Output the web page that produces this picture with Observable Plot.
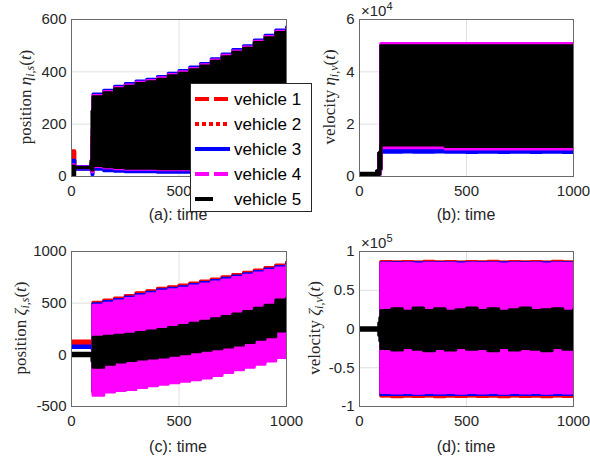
<!DOCTYPE html>
<html><head><meta charset="utf-8">
<script src="https://cdn.jsdelivr.net/npm/d3@7"></script>
<script src="https://cdn.jsdelivr.net/npm/@observablehq/plot@0.6"></script>
<style>
body{margin:0;background:#fff;}
#fig{position:relative;width:590px;height:464px;overflow:hidden;font-family:"Liberation Sans",Arial,sans-serif;color:#262626;}
.panel{position:absolute;}
.ylab{position:absolute;font-family:"Liberation Serif","DejaVu Serif",serif;font-size:17px;white-space:nowrap;transform:translate(-50%,-50%) rotate(-90deg);color:#262626;}
.ylab sub{font-size:12px;vertical-align:-3px;}
.xlab{position:absolute;font-size:16px;transform:translate(-50%,-50%);white-space:nowrap;color:#262626;}
.exp{position:absolute;font-size:15px;color:#262626;white-space:nowrap;}
.exp sup{font-size:11px;}
#legend{position:absolute;left:190px;top:83px;width:120px;height:127px;background:#fff;border:1px solid #262626;}
</style></head><body><div id="fig"></div>
<script>
// ---- data ----
const vehicles = ["vehicle 1", "vehicle 2", "vehicle 3", "vehicle 4", "vehicle 5"];
const colors = ["#ff0000", "#ff0000", "#0000ff", "#ff00ff", "#000000"];
const time = [0, 15, 80, 90, 95, 100, 150, 200, 250, 300, 350, 400, 450, 500, 550, 600, 650, 700, 750, 800, 850, 900, 950, 1000];

// (a) position eta_{i,s}: upper / lower envelope of each vehicle's oscillation
const aHi1 = [98, 36, 38, 45, 150, 300, 315, 330, 340, 350, 357, 367, 380, 390, 403, 417, 435, 453, 470, 485, 507, 525, 545, 555];
const aLo1 = [62, 30, 30, 28, 20, 35, 30, 27, 25, 25, 25, 23, 23, 23, 23, 25, 25, 25, 27, 27, 30, 30, 33, 35];
const aHi2 = [95, 36, 38, 45, 150, 300, 315, 330, 340, 350, 357, 367, 380, 390, 403, 417, 435, 453, 470, 485, 507, 525, 545, 555];
const aLo2 = [62, 30, 30, 28, 20, 35, 30, 27, 25, 25, 25, 23, 23, 23, 23, 25, 25, 25, 27, 27, 30, 30, 33, 35];
const aHi3 = [62, 38, 38, 45, 120, 315, 330, 345, 355, 365, 372, 382, 395, 405, 418, 432, 450, 468, 485, 500, 522, 540, 560, 572];
const aLo3 = [30, 28, 28, 25, 8, 28, 22, 20, 18, 18, 18, 16, 16, 16, 16, 18, 18, 18, 20, 20, 22, 22, 25, 28];
const aHi4 = [45, 36, 36, 50, 180, 310, 325, 340, 350, 360, 367, 377, 390, 400, 413, 427, 445, 463, 480, 495, 517, 535, 555, 565];
const aLo4 = [30, 33, 33, 28, 18, 38, 33, 30, 28, 28, 28, 26, 26, 26, 26, 28, 28, 28, 30, 30, 33, 33, 36, 38];
const aHi5 = [40, 34, 34, 60, 250, 305, 320, 335, 345, 355, 362, 372, 385, 395, 408, 422, 440, 458, 475, 490, 512, 530, 550, 560];
const aLo5 = [5, 34, 34, 30, 25, 42, 37, 34, 32, 32, 32, 30, 30, 30, 30, 32, 32, 32, 34, 34, 37, 37, 40, 42];

// (b) velocity eta_{i,v}
const bHi1 = [1000, 1000, 2000, 9000, 9000, 50000, 50000, 50000, 50000, 50000, 50000, 50000, 50000, 50000, 50000, 50000, 50000, 50000, 50000, 50000, 50000, 50000, 50000, 50000];
const bLo1 = [0, 0, 0, 1000, 3000, 10000, 10000, 10000, 10000, 10000, 10000, 10000, 10000, 10000, 10000, 10000, 10000, 10000, 10000, 10000, 10000, 10000, 10000, 10000];
const bHi2 = [1000, 1000, 2000, 9000, 9000, 50000, 50000, 50000, 50000, 50000, 50000, 50000, 50000, 50000, 50000, 50000, 50000, 50000, 50000, 50000, 50000, 50000, 50000, 50000];
const bLo2 = [0, 0, 0, 1000, 3000, 10000, 10000, 10000, 10000, 10000, 10000, 10000, 10000, 10000, 10000, 10000, 10000, 10000, 10000, 10000, 10000, 10000, 10000, 10000];
const bHi3 = [1000, 1000, 2000, 9000, 9500, 50500, 50500, 50500, 50500, 50500, 50500, 50500, 50500, 50500, 50500, 50500, 50500, 50500, 50500, 50500, 50500, 50500, 50500, 50500];
const bLo3 = [0, 0, 0, 500, 2500, 9300, 9300, 9400, 9300, 9300, 9400, 9300, 9300, 9200, 9300, 9300, 9200, 9300, 9300, 9200, 9300, 9300, 9200, 9300];
const bHi4 = [800, 800, 1500, 8500, 9000, 50800, 50800, 50800, 50800, 50800, 50800, 50800, 50800, 50800, 50800, 50800, 50800, 50800, 50800, 50800, 50800, 50800, 50800, 50800];
const bLo4 = [0, 0, 0, 500, 2500, 11000, 11000, 11000, 11000, 11000, 11000, 10500, 10500, 10500, 10500, 10500, 10500, 10500, 10500, 10500, 10500, 10500, 10500, 10500];
const bHi5 = [1200, 1200, 2200, 9000, 9000, 50000, 50000, 50000, 50000, 50000, 50000, 50000, 50000, 50000, 50000, 50000, 50000, 50000, 50000, 50000, 50000, 50000, 50000, 50000];
const bLo5 = [0, 0, 0, 1000, 3000, 12000, 12000, 12000, 12000, 12000, 12000, 11500, 11500, 11500, 11500, 11500, 11500, 11500, 11500, 11500, 11500, 11500, 11500, 11500];

// (c) position zeta_{i,s}
const cHi1 = [135, 135, 135, 135, 130, 510, 530, 550, 575, 600, 620, 645, 660, 675, 695, 715, 735, 755, 778, 800, 822, 845, 870, 897];
const cLo1 = [95, 95, 95, 95, 90, -360, -340, -325, -315, -295, -280, -265, -250, -235, -220, -205, -180, -150, -125, -100, -70, -40, -5, 30];
const cHi2 = [130, 130, 130, 130, 125, 505, 525, 545, 570, 595, 615, 640, 655, 670, 690, 710, 730, 750, 773, 795, 817, 840, 865, 892];
const cLo2 = [95, 95, 95, 95, 90, -360, -340, -325, -315, -295, -280, -265, -250, -235, -220, -205, -180, -150, -125, -100, -70, -40, -5, 30];
const cHi3 = [85, 85, 85, 85, 80, 495, 515, 535, 560, 585, 605, 630, 645, 660, 680, 700, 720, 740, 763, 785, 807, 830, 855, 880];
const cLo3 = [70, 70, 70, 70, 60, -350, -330, -315, -305, -285, -270, -255, -240, -225, -210, -195, -170, -140, -115, -90, -60, -30, 5, 40];
const cHi4 = [10, 10, 10, 10, 10, 480, 500, 520, 545, 570, 590, 615, 630, 645, 665, 685, 705, 725, 748, 770, 792, 815, 840, 865];
const cLo4 = [0, 0, 0, 0, -20, -390, -360, -345, -335, -315, -300, -285, -270, -255, -240, -225, -200, -170, -145, -120, -90, -60, -25, 10];
const cHi5 = [15, 15, 15, 15, 10, 170, 180, 190, 200, 215, 230, 245, 265, 285, 305, 325, 350, 370, 395, 420, 450, 480, 530, 545];
const cLo5 = [-10, -10, -10, -10, -60, -120, -90, -70, -55, -40, -30, -20, -5, 10, 30, 45, 60, 75, 95, 120, 150, 175, 230, 280];

// (d) velocity zeta_{i,v}
const dHi1 = [0, 0, 0, 0, 1000, 87000, 86500, 87000, 86000, 87500, 86500, 87000, 86000, 87000, 86500, 87500, 86000, 87000, 86500, 87000, 86000, 87500, 86500, 87000];
const dLo1 = [0, 0, 0, 0, -1000, -86000, -87500, -86500, -87000, -86000, -87500, -86500, -87000, -86000, -87000, -86500, -87500, -86000, -87000, -86500, -87500, -86000, -87000, -86500];
const dHi2 = [0, 0, 0, 0, 1000, 86500, 86500, 86500, 86500, 86500, 86500, 86500, 86500, 86500, 86500, 86500, 86500, 86500, 86500, 86500, 86500, 86500, 86500, 86500];
const dLo2 = [0, 0, 0, 0, -1000, -86500, -86500, -86500, -86500, -86500, -86500, -86500, -86500, -86500, -86500, -86500, -86500, -86500, -86500, -86500, -86500, -86500, -86500, -86500];
const dHi3 = [0, 0, 0, 0, 1000, 85500, 85500, 85500, 85500, 85500, 85500, 85500, 85500, 85500, 85500, 85500, 85500, 85500, 85500, 85500, 85500, 85500, 85500, 85500];
const dLo3 = [0, 0, 0, 0, -1000, -84500, -84500, -84500, -84500, -84500, -84500, -84500, -84500, -84500, -84500, -84500, -84500, -84500, -84500, -84500, -84500, -84500, -84500, -84500];
const dHi4 = [0, 0, 0, 0, 1000, 85000, 84500, 85000, 84000, 85000, 84500, 85000, 84000, 85000, 84500, 85000, 84000, 85000, 84500, 85000, 84000, 85000, 84500, 85000];
const dLo4 = [0, 0, 0, 0, -1000, -82000, -82500, -82000, -83000, -82000, -82500, -82000, -83000, -82000, -82500, -82000, -83000, -82000, -82500, -82000, -83000, -82000, -82500, -82000];
const dHi5 = [1500, 1500, 1500, 8000, 15000, 24000, 26000, 23000, 27000, 24000, 26000, 23000, 25000, 27000, 24000, 26000, 23000, 25000, 27000, 24000, 25000, 26000, 23000, 25000];
const dLo5 = [-1500, -1500, -1500, -8000, -15000, -25000, -27000, -24000, -26000, -28000, -25000, -27000, -24000, -26000, -25000, -28000, -24000, -27000, -25000, -26000, -28000, -24000, -26000, -25000];

const xTicks = [0, 500, 1000];
const xTicksA = [0, 500];          // the 1000 label of (a) lies under the legend
const aTicks = [0, 200, 400, 600];
const bTicks = [0, 20000, 40000, 60000];
const cTicks = [-500, 0, 500, 1000];
const dTicks = [-100000, -50000, 0, 50000, 100000];

// ---- drawing ----
const fig = document.getElementById("fig");

function panel({left, top, mL, mR, mT, mB, hi, lo, yDomain, yTicks, yFmt, xt}) {
  const marks = [
    Plot.gridX([500], {stroke: "#e0e0e0", strokeOpacity: 1}),
    Plot.gridY(yTicks, {stroke: "#e0e0e0", strokeOpacity: 1})
  ];
  for (let k = 0; k < 5; k++) {
    const rows = time.map((t, i) => ({t, lo: lo[k][i], hi: hi[k][i]}));
    marks.push(Plot.areaY(rows, {x: "t", y1: "lo", y2: "hi", fill: colors[k], curve: "step-after", clip: true}));
    marks.push(Plot.lineY(rows, {x: "t", y: "hi", stroke: colors[k], strokeWidth: 3, curve: "step-after", clip: true}));
    marks.push(Plot.lineY(rows, {x: "t", y: "lo", stroke: colors[k], strokeWidth: 3, curve: "step-after", clip: true}));
  }
  marks.push(Plot.frame({stroke: "#6a6a6a", strokeWidth: 1}));
  marks.push(Plot.axisX(xt, {tickSize: 0, tickPadding: 9, fill: "#262626", tickFormat: d => String(d), label: null}));
  marks.push(Plot.axisY(yTicks, {tickSize: 0, tickPadding: 5, fill: "#262626", tickFormat: yFmt, label: null}));
  const p = Plot.plot({
    width: 295, height: 232,
    marginLeft: mL, marginRight: mR, marginTop: mT, marginBottom: mB,
    x: {domain: [0, 1000]},
    y: {domain: yDomain},
    style: {fontSize: "15px", fontFamily: "Liberation Sans, Arial, sans-serif", background: "transparent", overflow: "visible"},
    marks
  });
  p.classList.add("panel");
  p.style.left = left + "px";
  p.style.top = top + "px";
  fig.appendChild(p);
}

panel({left: 0, top: 0, mL: 71, mR: 9, mT: 19, mB: 56, xt: xTicksA,
  hi: [aHi1, aHi2, aHi3, aHi4, aHi5], lo: [aLo1, aLo2, aLo3, aLo4, aLo5],
  yDomain: [0, 600], yTicks: aTicks, yFmt: d => String(d)});
panel({left: 295, top: 0, mL: 64, mR: 17, mT: 19, mB: 56, xt: xTicks,
  hi: [bHi1, bHi2, bHi3, bHi4, bHi5], lo: [bLo1, bLo2, bLo3, bLo4, bLo5],
  yDomain: [0, 60000], yTicks: bTicks, yFmt: d => String(d / 1e4)});
panel({left: 0, top: 232, mL: 71, mR: 9, mT: 19, mB: 58, xt: xTicks,
  hi: [cHi1, cHi2, cHi3, cHi4, cHi5], lo: [cLo1, cLo2, cLo3, cLo4, cLo5],
  yDomain: [-500, 1000], yTicks: cTicks, yFmt: d => String(d)});
panel({left: 295, top: 232, mL: 64, mR: 17, mT: 19, mB: 58, xt: xTicks,
  hi: [dHi1, dHi2, dHi3, dHi4, dHi5], lo: [dLo1, dLo2, dLo3, dLo4, dLo5],
  yDomain: [-100000, 100000], yTicks: dTicks, yFmt: d => String(d / 1e5)});

// labels
function addHTML(cls, html, x, y) {
  const el = document.createElement("div");
  el.className = cls;
  el.innerHTML = html;
  el.style.left = x + "px";
  el.style.top = y + "px";
  fig.appendChild(el);
}
addHTML("xlab", "(a): time", 178, 215);
addHTML("xlab", "(b): time", 466, 215);
addHTML("xlab", "(c): time", 178, 447);
addHTML("xlab", "(d): time", 466, 447);
addHTML("ylab", "position <i>η</i><sub><i>i,s</i></sub>(<i>t</i>)", 27, 97);
addHTML("ylab", "velocity <i>η</i><sub><i>i,v</i></sub>(<i>t</i>)", 331, 97);
addHTML("ylab", "position <i>ζ</i><sub><i>i,s</i></sub>(<i>t</i>)", 22, 328);
addHTML("ylab", "velocity <i>ζ</i><sub><i>i,v</i></sub>(<i>t</i>)", 316, 328);
addHTML("exp", "×10<sup>4</sup>", 361, 0);
addHTML("exp", "×10<sup>5</sup>", 361, 232);

// legend
const dashes = ["14,5", "4,3", null, "14,5", null];
const leg = document.createElement("div");
leg.id = "legend";
const ns = "http://www.w3.org/2000/svg";
const svg = document.createElementNS(ns, "svg");
svg.setAttribute("width", 120); svg.setAttribute("height", 127);
vehicles.forEach((name, k) => {
  const y = 15 + k * 25;
  const ln = document.createElementNS(ns, "line");
  ln.setAttribute("x1", 4); ln.setAttribute("x2", k === 4 ? 22 : 39);
  ln.setAttribute("y1", y); ln.setAttribute("y2", y);
  ln.setAttribute("stroke", colors[k]); ln.setAttribute("stroke-width", 4);
  if (dashes[k]) ln.setAttribute("stroke-dasharray", dashes[k]);
  svg.appendChild(ln);
  const tx = document.createElementNS(ns, "text");
  tx.setAttribute("x", 43); tx.setAttribute("y", y);
  tx.setAttribute("dy", "0.36em");
  tx.setAttribute("font-size", "17px");
  tx.setAttribute("font-family", "Liberation Sans, Arial, sans-serif");
  tx.setAttribute("fill", "#000");
  tx.textContent = name;
  svg.appendChild(tx);
});
leg.appendChild(svg);
fig.appendChild(leg);
</script></body></html>
